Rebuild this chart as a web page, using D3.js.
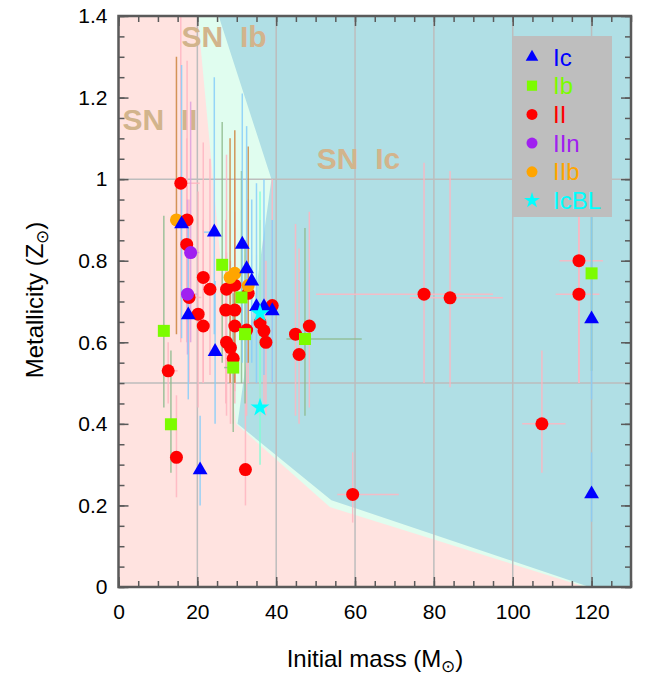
<!DOCTYPE html>
<html>
<head>
<meta charset="utf-8">
<script src="https://cdn.jsdelivr.net/npm/d3@7"></script>
<style>
  html, body { margin: 0; padding: 0; background: #ffffff; }
  svg { display: block; }
  text { font-family: "Liberation Sans", Arial, sans-serif; }
</style>
</head>
<body>
<svg id="chart" width="647" height="675"></svg>
<script>
// ---------------- data ----------------
// each point: [mass, Z, Zlow, Zhigh, massLow, massHigh]  (null = no horizontal bar)
const icPoints = [
  [16.0, 0.89, 0.61, 1.28, null, null],
  [24.3, 0.87, 0.62, 1.25, 21.7, 24.3],
  [31.4, 0.84, 0.55, 1.21, null, null],
  [32.5, 0.78, 0.55, 1.13, null, null],
  [33.8, 0.75, 0.55, 0.95, null, null],
  [17.7, 0.667, 0.46, 0.90, null, null],
  [35.0, 0.687, 0.50, 0.99, null, null],
  [36.9, 0.687, 0.52, 1.00, null, null],
  [39.0, 0.677, 0.50, 0.90, null, null],
  [24.5, 0.577, 0.40, 0.75, null, null],
  [20.7, 0.287, 0.20, 0.42, null, null],
  [120.0, 0.657, 0.46, 0.92, null, null],
  [120.0, 0.228, 0.16, 0.33, null, null]
];
const ibPoints = [
  [11.5, 0.628, 0.44, 0.91, null, null],
  [13.3, 0.399, 0.28, 0.58, null, null],
  [26.3, 0.79, 0.55, 1.14, null, null],
  [29.1, 0.538, 0.38, 0.72, 26.8, 29.1],
  [31.2, 0.71, 0.50, 1.02, null, null],
  [32.1, 0.62, 0.45, 0.85, null, null],
  [47.3, 0.608, 0.42, 0.88, 42.6, 61.7],
  [120.0, 0.769, 0.53, 1.00, null, null]
];
const iiPoints = [
  [15.8, 0.99, 0.60, 1.45, 15.8, 20.6],
  [17.4, 0.90, 0.65, 1.29, null, null],
  [17.3, 0.84, 0.60, 1.10, null, null],
  [21.5, 0.759, 0.50, 1.09, null, null],
  [23.2, 0.73, 0.52, 1.05, null, null],
  [27.4, 0.73, 0.50, 1.06, null, null],
  [29.5, 0.74, 0.50, 1.00, null, null],
  [32.9, 0.72, 0.50, 0.95, null, null],
  [17.9, 0.71, 0.50, 0.95, 17.9, 21.0],
  [27.2, 0.679, 0.45, 0.90, null, null],
  [29.5, 0.679, 0.48, 0.92, null, null],
  [39.0, 0.69, 0.50, 1.00, null, null],
  [20.2, 0.669, 0.44, 0.97, null, null],
  [21.5, 0.64, 0.50, 0.90, null, null],
  [29.5, 0.64, 0.45, 0.88, null, null],
  [35.9, 0.648, 0.45, 0.90, null, null],
  [36.9, 0.628, 0.45, 0.85, null, null],
  [32.5, 0.63, 0.42, 0.85, null, null],
  [37.4, 0.60, 0.42, 0.80, null, null],
  [48.4, 0.64, 0.44, 0.92, null, null],
  [44.9, 0.62, 0.42, 0.89, null, null],
  [45.8, 0.57, 0.40, 0.83, null, null],
  [27.4, 0.60, 0.42, 0.82, null, null],
  [28.4, 0.587, 0.40, 0.80, null, null],
  [29.1, 0.56, 0.40, 0.78, null, null],
  [12.6, 0.53, 0.45, 0.60, 11.0, 15.0],
  [14.7, 0.318, 0.22, 0.47, null, null],
  [32.2, 0.288, 0.20, 0.48, null, null],
  [59.4, 0.227, 0.158, 0.33, 55.5, 71.1],
  [77.5, 0.718, 0.50, 1.04, 50.1, 95.0],
  [84.1, 0.709, 0.49, 1.02, 73.9, 97.5],
  [116.8, 0.80, 0.50, 1.00, 111.9, 122.9],
  [116.8, 0.718, 0.50, 0.95, 110.9, 122.0],
  [107.4, 0.40, 0.28, 0.58, 102.4, 113.4]
];
const iinPoints = [
  [18.3, 0.82, 0.60, 1.19, 18.3, 20.5],
  [17.5, 0.718, 0.57, 0.95, 17.5, 20.0]
];
const iibPoints = [
  [14.7, 0.90, 0.62, 1.30, null, null],
  [28.3, 0.759, 0.50, 1.10, null, null],
  [29.5, 0.769, 0.50, 1.12, null, null],
  [32.9, 0.739, 0.55, 1.08, null, null]
];
const icblPoints = [
  [35.9, 0.671, 0.50, 0.97, null, null],
  [35.9, 0.44, 0.30, 0.60, null, null]
];

// region boundaries [mass, Z]
const regionIb = [[20.1, 1.4], [29.8, 0.40], [53.6, 0.196], [118.5, 0], [130, 0], [130, 1.4]];
const regionIc = [[25.4, 1.4], [38.8, 1.0], [30.2, 0.40], [54.0, 0.213], [119.5, 0], [130, 0], [130, 1.4]];
const regionLabels = ["SN  II", "SN  Ib", "SN  Ic"];
const regionLabelPos = [[1.0, 1.12], [16.0, 1.325], [50.3, 1.025]];

const xTicks = [0, 20, 40, 60, 80, 100, 120];
const yTicks = [0, 0.2, 0.4, 0.6, 0.8, 1, 1.2, 1.4];
const yTickLabels = ["0", "0.2", "0.4", "0.6", "0.8", "1", "1.2", "1.4"];
const gridX = [20, 40, 60, 80, 100, 120];
const gridY = [0.5, 1.0];

const legendNames = ["Ic", "Ib", "II", "IIn", "IIb", "IcBL"];

// ---------------- drawing ----------------
const svg = d3.select("#chart");
const L = 118.5, R = 631, T = 16, B = 587;
const x = d3.scaleLinear().domain([0, 130]).range([L, R]);
const y = d3.scaleLinear().domain([0, 1.4]).range([B, T]);

svg.append("defs").append("clipPath").attr("id", "plotclip")
  .append("rect").attr("x", L).attr("y", T).attr("width", R - L).attr("height", B - T);

const plot = svg.append("g").attr("clip-path", "url(#plotclip)");

// backgrounds
plot.append("rect").attr("x", L).attr("y", T).attr("width", R - L).attr("height", B - T)
  .attr("fill", "#ffe3e0");
const line = d3.line().x(d => x(d[0])).y(d => y(d[1]));
plot.append("path").attr("d", line(regionIb) + "Z").attr("fill", "#e0fdef");
plot.append("path").attr("d", line(regionIc) + "Z").attr("fill", "#b0dfe5");

// grid
plot.selectAll(".gx").data(gridX).join("line")
  .attr("x1", d => x(d)).attr("x2", d => x(d)).attr("y1", T).attr("y2", B)
  .attr("stroke", "#bdbdbd").attr("stroke-width", 1.5);
plot.selectAll(".gy").data(gridY).join("line")
  .attr("x1", L).attr("x2", R).attr("y1", d => y(d)).attr("y2", d => y(d))
  .attr("stroke", "#bdbdbd").attr("stroke-width", 1.5);

// region labels
plot.selectAll(".rl").data(regionLabels).join("text")
  .attr("x", (d, i) => x(regionLabelPos[i][0]))
  .attr("y", (d, i) => y(regionLabelPos[i][1]))
  .attr("font-size", 30).attr("font-weight", "bold").attr("fill", "#d2b48c")
  .style("white-space", "pre").attr("xml:space", "preserve")
  .text(d => d);

// series definitions
const series = [
  { name: "II", pts: iiPoints, color: "#ff0000", err: "#ffb6c1", sym: "circle" },
  { name: "IIn", pts: iinPoints, color: "#a020f0", err: "#dda0dd", sym: "circle" },
  { name: "IIb", pts: iibPoints, color: "#ffa500", err: "#cd853f", sym: "circle" },
  { name: "Ib", pts: ibPoints, color: "#7cfc00", err: "#8fbc8f", sym: "square" },
  { name: "Ic", pts: icPoints, color: "#0000ff", err: "#87cefa", sym: "triangle" },
  { name: "IcBL", pts: icblPoints, color: "#00ffff", err: "#7fffd4", sym: "star" }
];

// error bars
const eg = plot.append("g");
series.forEach(s => {
  eg.selectAll(null).data(s.pts).join("line")
    .attr("x1", d => x(d[0])).attr("x2", d => x(d[0]))
    .attr("y1", d => y(d[2])).attr("y2", d => y(d[3]))
    .attr("stroke", s.err).attr("stroke-width", 1.5).attr("opacity", 0.85);
  eg.selectAll(null).data(s.pts.filter(d => d[4] !== null)).join("line")
    .attr("x1", d => x(d[4])).attr("x2", d => x(d[5]))
    .attr("y1", d => y(d[1])).attr("y2", d => y(d[1]))
    .attr("stroke", s.err).attr("stroke-width", 1.5).attr("opacity", 0.85);
});

function symPath(sym, scale) {
  const k = scale || 1;
  if (sym === "square") return d3.symbol(d3.symbolSquare, 144 * k * k)();
  if (sym === "triangle") return d3.symbol(d3.symbolTriangle, 95 * k * k)();
  if (sym === "star") return d3.symbol(d3.symbolStar, 110 * k * k)();
  return null;
}

const mg = svg.append("g");
series.forEach(s => {
  if (s.sym === "circle") {
    mg.selectAll(null).data(s.pts).join("circle")
      .attr("cx", d => x(d[0])).attr("cy", d => y(d[1])).attr("r", 6.5)
      .attr("fill", s.color);
  } else {
    mg.selectAll(null).data(s.pts).join("path")
      .attr("d", symPath(s.sym))
      .attr("transform", d => `translate(${x(d[0])},${y(d[1])})`)
      .attr("fill", s.color);
  }
});

// axes frame and ticks
const frameColor = "#5a5a5a";
const ax = svg.append("g");
function tickAxis(axisFn, scale, vals, size, transform) {
  const g = ax.append("g").attr("transform", transform)
    .call(axisFn(scale).tickValues(vals).tickSizeInner(size).tickSizeOuter(0).tickFormat(""));
  g.select(".domain").remove();
  g.selectAll(".tick line").attr("stroke", frameColor).attr("stroke-width", 1.5);
  return g;
}
const xMinor = d3.range(0, 131, 5);
const yMinor = d3.range(0, 1.4001, 0.05);
tickAxis(d3.axisBottom, x, xMinor, -6, `translate(0,${B})`);
tickAxis(d3.axisBottom, x, xTicks, -10, `translate(0,${B})`);
tickAxis(d3.axisTop, x, xMinor, -6, `translate(0,${T})`);
tickAxis(d3.axisTop, x, xTicks, -10, `translate(0,${T})`);
tickAxis(d3.axisLeft, y, yMinor, -6, `translate(${L},0)`);
tickAxis(d3.axisLeft, y, yTicks, -10, `translate(${L},0)`);
tickAxis(d3.axisRight, y, yMinor, -6, `translate(${R},0)`);
tickAxis(d3.axisRight, y, yTicks, -10, `translate(${R},0)`);

ax.append("rect").attr("x", L).attr("y", T).attr("width", R - L).attr("height", B - T)
  .attr("fill", "none").attr("stroke", frameColor).attr("stroke-width", 2.5);

// tick labels
const xl = ax.append("g").attr("transform", `translate(0,${B})`)
  .call(d3.axisBottom(x).tickValues(xTicks).tickSize(0).tickPadding(17).tickFormat(d3.format("d")));
xl.select(".domain").remove();
xl.selectAll("text").attr("font-size", 21).attr("fill", "#000")
  .attr("font-family", "Liberation Sans, Arial, sans-serif");

const yl = ax.append("g").attr("transform", `translate(${L},0)`)
  .call(d3.axisLeft(y).tickValues(yTicks).tickSize(0).tickPadding(11)
    .tickFormat((d, i) => yTickLabels[i]));
yl.select(".domain").remove();
yl.selectAll("text").attr("font-size", 21).attr("fill", "#000")
  .attr("font-family", "Liberation Sans, Arial, sans-serif");

// axis titles
const xt = svg.append("text").attr("x", 375).attr("y", 667).attr("text-anchor", "middle")
  .attr("font-size", 24).attr("fill", "#000");
xt.append("tspan").text("Initial mass (M");
xt.append("tspan").attr("font-size", 17).attr("dy", 5).text("\u2299");
xt.append("tspan").attr("dy", -5).text(")");

const yt = svg.append("text").attr("transform", "translate(43,300) rotate(-90)")
  .attr("text-anchor", "middle").attr("font-size", 24).attr("fill", "#000");
yt.append("tspan").text("Metallicity (Z");
yt.append("tspan").attr("font-size", 17).attr("dy", 5).text("\u2299");
yt.append("tspan").attr("dy", -5).text(")");

// legend
const leg = svg.append("g");
leg.append("rect").attr("x", 513).attr("y", 36).attr("width", 99).attr("height", 181)
  .attr("fill", "#bebebe");
const legendSeries = legendNames.map(n => series.find(s => s.name === n));
legendSeries.forEach((s, i) => {
  const cy = 57 + i * 28.7;
  if (s.sym === "circle") {
    leg.append("circle").attr("cx", 532).attr("cy", cy).attr("r", 5.5).attr("fill", s.color);
  } else {
    leg.append("path").attr("d", symPath(s.sym, 0.85))
      .attr("transform", `translate(532,${cy})`).attr("fill", s.color);
  }
  leg.append("text").attr("x", 553).attr("y", cy + 8.5).attr("font-size", 24)
    .attr("fill", s.color).text(s.name);
});
</script>
</body>
</html>
